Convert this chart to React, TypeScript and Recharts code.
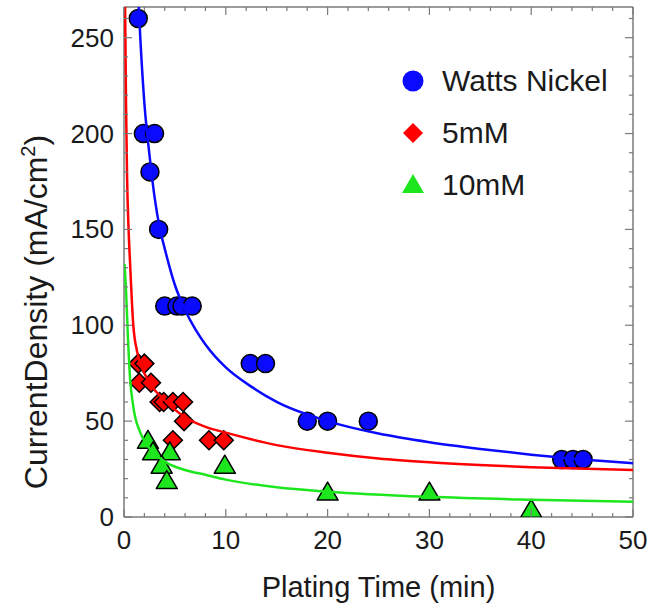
import { ComposedChart, Line, Scatter, XAxis, YAxis } from 'recharts'

const FONT = '"Liberation Sans", Arial, sans-serif'
const INK = '#1a1a1a'
const FRAME = '#7a7a7a'
const BLUE = '#0a0aff'
const RED = '#ff0000'
const GREEN = '#1ee61e'

// axis ticks (minor every 2 min / 10 mA, labels on the majors)
const X_TICKS = [0, 2, 4, 6, 8, 10, 12, 14, 16, 18, 20, 22, 24, 26, 28, 30, 32, 34, 36, 38, 40, 42, 44, 46, 48, 50]
const X_MAJOR = [0, 10, 20, 30, 40, 50]
const Y_TICKS = [0, 10, 20, 30, 40, 50, 60, 70, 80, 90, 100, 110, 120, 130, 140, 150, 160, 170, 180, 190, 200, 210, 220, 230, 240, 250, 260]
const Y_MAJOR = [0, 50, 100, 150, 200, 250]

// measured points: plating time (min) / current density (mA/cm2)
const WATTS_T = [1.4, 1.9, 3.0, 2.55, 3.4, 4.0, 5.2, 5.7, 6.7, 12.4, 13.9, 18, 20, 24, 43, 44.1, 45.1]
const WATTS_J = [260, 200, 200, 180, 150, 110, 110, 110, 110, 80, 80, 50, 50, 50, 30, 30, 30]
const MM5_T = [1.4, 2.0, 1.5, 2.65, 3.5, 3.9, 4.8, 5.8, 5.9, 4.8, 8.35, 9.8]
const MM5_J = [80, 80, 70, 70, 60, 60, 60, 60, 50, 40, 40, 40]
const MM10_T = [2.35, 2.85, 4.5, 3.7, 4.2, 9.9, 20, 30, 40]
const MM10_J = [40, 34, 34, 27, 19, 27, 13, 13, 4]

// fitted decay curves
const WATTS_FIT_T = [1.4, 1.6, 2, 2.5, 3, 3.5, 4, 5, 6, 7, 8, 10, 12.5, 15, 20, 25, 30, 35, 40, 45, 50]
const WATTS_FIT_J = [272, 250, 216, 189, 167, 151, 140, 121, 108, 98, 90, 78, 68, 60, 50, 43.5, 39, 35.5, 32.5, 30, 28]
const MM5_FIT_T = [0.1, 0.2, 0.3, 0.45, 0.6, 0.9, 1.3, 2, 2.75, 4, 5, 6, 8, 10, 15, 20, 25, 30, 40, 50]
const MM5_FIT_J = [270, 215, 178, 150, 132, 101, 86, 75, 68, 61, 56, 52, 47, 44, 37.5, 33.5, 30.5, 28.5, 26, 24.5]
const MM10_FIT_T = [0.05, 0.2, 0.4, 0.6, 0.9, 1.6, 2.2, 3, 4.3, 6, 8, 10, 15, 20, 30, 40, 50]
const MM10_FIT_J = [132, 118, 92, 72, 58, 44, 38, 33, 28, 24.5, 22, 19.5, 15.5, 13.2, 10.5, 9, 8]

const pts = (t: number[], j: number[]) => t.map((x, i) => ({ x, y: j[i] }))

const watts = pts(WATTS_T, WATTS_J)
const mm5 = pts(MM5_T, MM5_J)
const mm10 = pts(MM10_T, MM10_J)
const wattsFit = pts(WATTS_FIT_T, WATTS_FIT_J)
const mm5Fit = pts(MM5_FIT_T, MM5_FIT_J)
const mm10Fit = pts(MM10_FIT_T, MM10_FIT_J)

type ShapeProps = { cx?: number; cy?: number }

function Dot ({ cx, cy, fill }: ShapeProps & { fill: string }) {
  if (cx == null || cy == null) return null
  return <circle cx={cx} cy={cy} r={9} fill={fill} stroke="#000" strokeWidth={1.5} />
}

function Diamond ({ cx, cy, fill }: ShapeProps & { fill: string }) {
  if (cx == null || cy == null) return null
  const d = 9.5
  return <polygon points={`${cx},${cy - d} ${cx + d},${cy} ${cx},${cy + d} ${cx - d},${cy}`} fill={fill} stroke="#000" strokeWidth={1.5} />
}

function Triangle ({ cx, cy, fill }: ShapeProps & { fill: string }) {
  if (cx == null || cy == null) return null
  const w = 10.5
  return <polygon points={`${cx},${cy - 10} ${cx + w},${cy + 8} ${cx - w},${cy + 8}`} fill={fill} stroke="#000" strokeWidth={1.5} strokeLinejoin="round" />
}

type TickProps = { x?: number; y?: number; payload?: { value: number } }

function BottomTick ({ x = 0, y = 0, payload }: TickProps) {
  const v = payload?.value ?? 0
  const major = X_MAJOR.includes(v)
  return (
    <g>
      <line x1={x} y1={y} x2={x} y2={y - (major ? 8 : 4)} stroke={FRAME} strokeWidth={1.2} />
      {major && <text x={x} y={y + 32} textAnchor="middle" fontSize={26} fontFamily={FONT} fill={INK}>{v}</text>}
    </g>
  )
}

function TopTick ({ x = 0, y = 0, payload }: TickProps) {
  const major = X_MAJOR.includes(payload?.value ?? 0)
  return <line x1={x} y1={y} x2={x} y2={y + (major ? 8 : 4)} stroke={FRAME} strokeWidth={1.2} />
}

function LeftTick ({ x = 0, y = 0, payload }: TickProps) {
  const v = payload?.value ?? 0
  const major = Y_MAJOR.includes(v)
  return (
    <g>
      <line x1={x} y1={y} x2={x + (major ? 8 : 4)} y2={y} stroke={FRAME} strokeWidth={1.2} />
      {major && <text x={x - 10} y={y + 9} textAnchor="end" fontSize={26} fontFamily={FONT} fill={INK}>{v}</text>}
    </g>
  )
}

function RightTick ({ x = 0, y = 0, payload }: TickProps) {
  const major = Y_MAJOR.includes(payload?.value ?? 0)
  return <line x1={x} y1={y} x2={x - (major ? 8 : 4)} y2={y} stroke={FRAME} strokeWidth={1.2} />
}

const LEGEND_ROWS = [
  { label: 'Watts Nickel', color: BLUE, shape: 'dot' },
  { label: '5mM', color: RED, shape: 'diamond' },
  { label: '10mM', color: GREEN, shape: 'triangle' },
]

function LegendBox () {
  return (
    <g transform="translate(390, 55)">
      {LEGEND_ROWS.map((row, i) => {
        const cy = 26 + i * 52
        return (
          <g key={row.label}>
            {row.shape === 'dot' && <circle cx={23} cy={cy} r={10.5} fill={row.color} />}
            {row.shape === 'diamond' && <polygon points={`23,${cy - 10} 33,${cy} 23,${cy + 10} 13,${cy}`} fill={row.color} />}
            {row.shape === 'triangle' && <polygon points={`23,${cy - 11} 34,${cy + 8} 12,${cy + 8}`} fill={row.color} />}
            <text x={52} y={cy + 10} fontSize={30} fontFamily={FONT} fill={INK}>{row.label}</text>
          </g>
        )
      })}
    </g>
  )
}

export default function App () {
  return (
    <div style={{ position: 'absolute', left: 0, top: 0, width: 650, height: 607, background: '#fff' }}>
      <ComposedChart width={650} height={607} margin={{ top: 6, right: 16, bottom: 0, left: 0 }}>
        <XAxis
          dataKey="x" type="number" domain={[0, 50]} ticks={X_TICKS} interval={0} allowDataOverflow
          height={90} tickSize={0} tickMargin={0} tick={<BottomTick />}
          axisLine={{ stroke: FRAME, strokeWidth: 1.5 }} tickLine={false}
          label={{ value: 'Plating Time (min)', position: 'insideBottom', offset: 10, fontSize: 29, fontFamily: FONT, fill: INK }}
        />
        <XAxis
          xAxisId="top" orientation="top" dataKey="x" type="number" domain={[0, 50]} ticks={X_TICKS} interval={0}
          allowDataOverflow height={1} tickSize={0} tickMargin={0} tick={<TopTick />}
          axisLine={{ stroke: FRAME, strokeWidth: 1.5 }} tickLine={false}
        />
        <YAxis
          dataKey="y" type="number" domain={[0, 266]} ticks={Y_TICKS} interval={0} allowDataOverflow
          width={124} tickSize={0} tickMargin={0} tick={<LeftTick />}
          axisLine={{ stroke: FRAME, strokeWidth: 1.5 }} tickLine={false}
        />
        <YAxis
          yAxisId="right" orientation="right" dataKey="y" type="number" domain={[0, 266]} ticks={Y_TICKS} interval={0}
          allowDataOverflow width={1} tickSize={0} tickMargin={0} tick={<RightTick />}
          axisLine={{ stroke: FRAME, strokeWidth: 1.5 }} tickLine={false}
        />
        <Scatter name="Watts Nickel" data={watts} fill={BLUE} isAnimationActive={false} shape={(p: ShapeProps) => <Dot {...p} fill={BLUE} />} />
        <Scatter name="5mM" data={mm5} fill={RED} isAnimationActive={false} shape={(p: ShapeProps) => <Diamond {...p} fill={RED} />} />
        <Scatter name="10mM" data={mm10} fill={GREEN} isAnimationActive={false} shape={(p: ShapeProps) => <Triangle {...p} fill={GREEN} />} />
        {/* fitted curves are plotted against the top/right frame axes (same domains) */}
        <Line xAxisId="top" yAxisId="right" data={wattsFit} dataKey="y" type="monotone" stroke={BLUE} strokeWidth={2.5} dot={false} activeDot={false} isAnimationActive={false} zIndex={700} />
        <Line xAxisId="top" yAxisId="right" data={mm5Fit} dataKey="y" type="monotone" stroke={RED} strokeWidth={2.5} dot={false} activeDot={false} isAnimationActive={false} zIndex={700} />
        <Line xAxisId="top" yAxisId="right" data={mm10Fit} dataKey="y" type="monotone" stroke={GREEN} strokeWidth={2.5} dot={false} activeDot={false} isAnimationActive={false} zIndex={700} />
      </ComposedChart>
      <svg width={650} height={607} style={{ position: 'absolute', left: 0, top: 0, pointerEvents: 'none' }}>
        <text transform="translate(47, 312) rotate(-90)" textAnchor="middle" fontSize={32} fontFamily={FONT} fill={INK}>
          CurrentDensity (mA/cm<tspan dy={-12} fontSize={20}>2</tspan><tspan dy={12}>)</tspan>
        </text>
        <LegendBox />
      </svg>
    </div>
  )
}
